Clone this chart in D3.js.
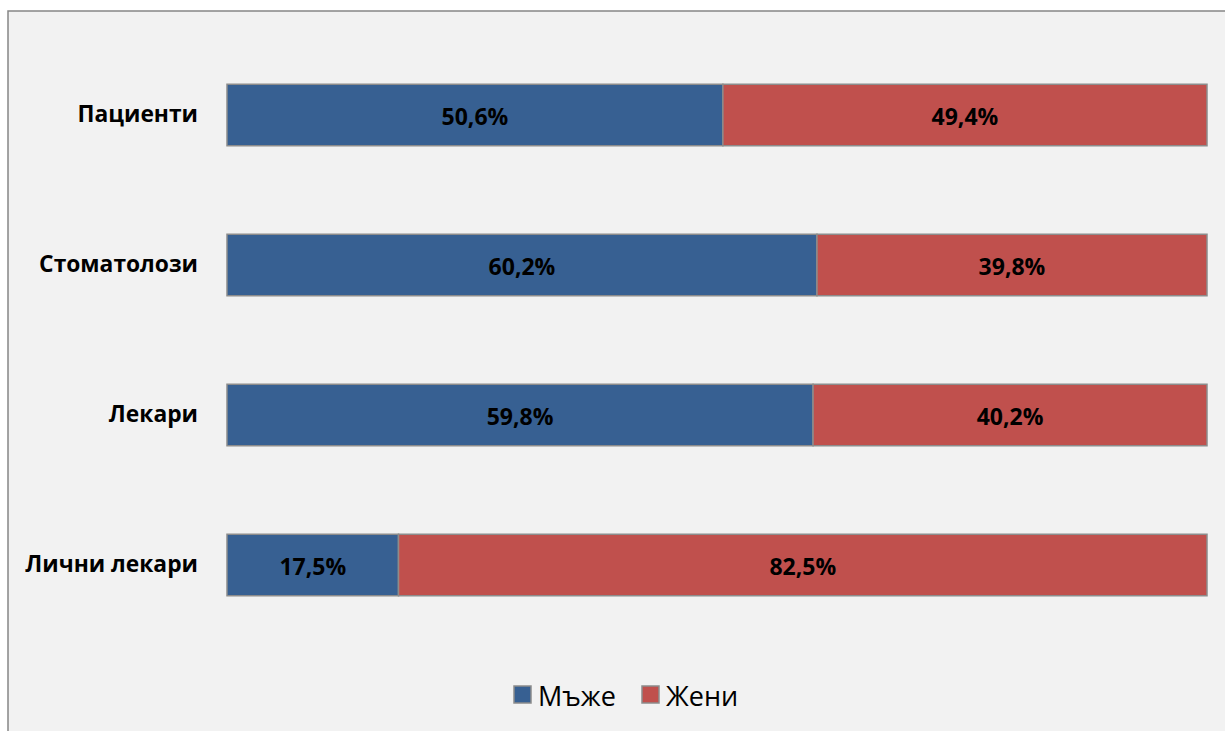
<!DOCTYPE html>
<html><head><meta charset="utf-8">
<script src="https://cdn.jsdelivr.net/npm/d3@7"></script>
<style>html,body{margin:0;padding:0;background:#fff;overflow:hidden}</style>
</head><body>
<svg id="chart" width="1225" height="731"></svg>
<script>
const categories = ["Пациенти", "Стоматолози", "Лекари", "Лични лекари"];
const seriesNames = ["Мъже", "Жени"];
const men = [50.6, 60.2, 59.8, 17.5];
const women = [49.4, 39.8, 40.2, 82.5];
const colors = ["#376092", "#c0504d"];

const svg = d3.select("#chart");
const W = 1225, H = 731;
svg.append("rect").attr("x", 0).attr("y", 0).attr("width", W).attr("height", H).attr("fill", "#ffffff");
svg.append("rect").attr("x", 8).attr("y", 11).attr("width", W + 20).attr("height", H + 20)
  .attr("fill", "#f2f2f2").attr("stroke", "#868686").attr("stroke-width", 1.5);

const x = d3.scaleLinear().domain([0, 100]).range([227, 1207]);
const y = d3.scaleBand().domain(categories).range([40, 640]).paddingInner(0.59).paddingOuter(0.295);

const data = categories.map((c, i) => ({cat: c, vals: [men[i], women[i]]}));
const stacked = d3.stack().keys([0, 1]).value((d, k) => d.vals[k])(data);

const font = "'Open Sans', 'Noto Sans', sans-serif";

stacked.forEach((layer, si) => {
  const g = svg.append("g");
  g.selectAll("rect").data(layer).join("rect")
    .attr("x", d => x(d[0])).attr("y", d => y(d.data.cat))
    .attr("width", d => x(d[1]) - x(d[0])).attr("height", y.bandwidth())
    .attr("fill", colors[si]).attr("stroke", "#8c8c8c").attr("stroke-width", 1.5);
  g.selectAll("text").data(layer).join("text")
    .attr("x", d => (x(d[0]) + x(d[1])) / 2).attr("y", d => y(d.data.cat) + y.bandwidth() / 2 + 1)
    .attr("text-anchor", "middle").attr("dominant-baseline", "central")
    .attr("font-family", font).attr("font-weight", "bold").attr("font-size", 23).attr("fill", "#000")
    .text(d => (d[1] - d[0]).toFixed(1).replace(".", ",") + "%");
});

const yAxis = d3.axisLeft(y).tickSize(0).tickPadding(29);
const ya = svg.append("g").attr("transform", "translate(227,0)").call(yAxis);
ya.select(".domain").remove();
ya.selectAll("text").attr("font-family", font).attr("font-weight", "bold").attr("font-size", 22.8).attr("fill", "#000")
  .attr("dy", "0.3em");

// legend
const leg = svg.append("g");
const legX = [514, 642];
seriesNames.forEach((n, i) => {
  leg.append("rect").attr("x", legX[i]).attr("y", 686).attr("width", 17).attr("height", 17)
    .attr("fill", colors[i]).attr("stroke", "#8c8c8c").attr("stroke-width", 1.5);
  leg.append("text").attr("x", legX[i] + 24).attr("y", 695).attr("dominant-baseline", "central")
    .attr("font-family", font).attr("font-size", 27).attr("fill", "#000").text(n);
});
</script>
</body></html>
